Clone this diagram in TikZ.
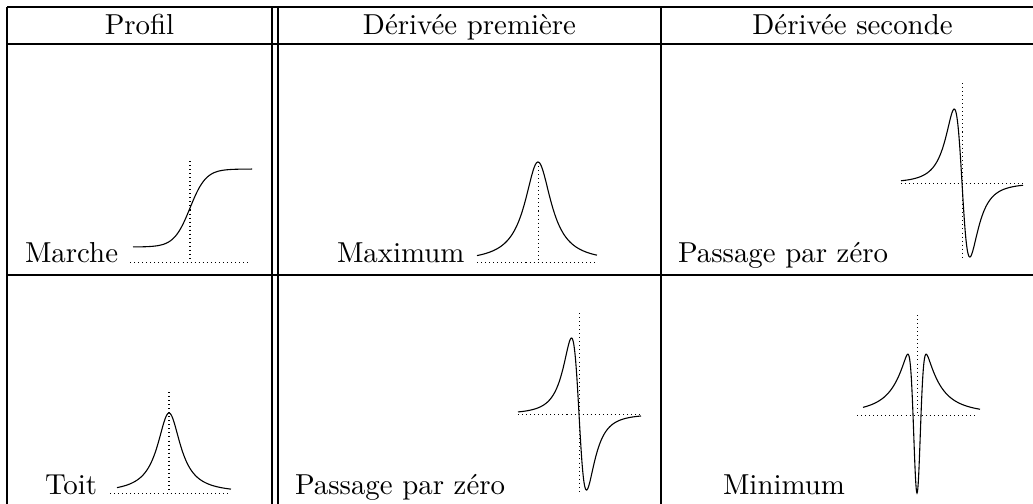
\documentclass[tikz,border=0pt]{standalone}
\begin{document}
\begin{tikzpicture}[x=0.3465pt,y=-0.3465pt,
  rule/.style={line width=0.4pt},
  guide/.style={line width=0.35pt, dash pattern=on 0.35pt off 1.05pt},
  curve/.style={line width=0.38pt},
  lbl/.style={anchor=base west, inner sep=0pt, outer sep=0pt},
  head/.style={anchor=base, inner sep=0pt, outer sep=0pt}]
\useasboundingbox (0,0) rectangle (1033,503);
% table rules
\draw[rule] (7,7) -- (1040,7);
\draw[rule] (7,44) -- (1040,44);
\draw[rule] (7,275) -- (1040,275);
\draw[rule] (7,7) -- (7,510);
\draw[rule] (272,7) -- (272,510);
\draw[rule] (278,7) -- (278,510);
\draw[rule] (661,7) -- (661,510);
% headers
\node[head] (h1) at (139.5,34) {Profil};
\node[head] (h2) at (469.5,34) {Dérivée première};
\node[head] (h3) at (852.5,34) {Dérivée seconde};
% labels
\node[lbl] (marche) at (25,262) {Marche};
\node[lbl] (maximum) at (337,262) {Maximum};
\node[lbl] (pz1) at (678,262) {Passage par zéro};
\node[lbl] (toit) at (45,494) {Toit};
\node[lbl] (pz2) at (295,494) {Passage par zéro};
\node[lbl] (minimum) at (723,494) {Minimum};
% Marche
\draw[guide] (130,262) -- (250,262);
\draw[guide] (190,161) -- (190,262);
\draw[curve] plot[domain=-57:62,samples=150] ({190+\x},{208-39*tanh(\x/16)});
% Maximum
\draw[guide] (477,262) -- (597,262);
\draw[guide] (538,162) -- (538,262);
\draw[curve] plot[domain=-61:59,samples=200] ({538+\x},{262-100/(1+(\x/16)^2)});
% Passage par zero (row 1)
\draw[guide] (901,183) -- (1023,183);
\draw[guide] (962,83) -- (962,258);
\draw[curve] plot[domain=-61:61,samples=300] ({962+\x},{183+113.9*(2*\x/13.5)/((1+(\x/13.5)^2)^2)});
% Toit
\draw[guide] (110,493) -- (230,493);
\draw[guide] (169,392) -- (169,493);
\draw[curve] plot[domain=-52:62,samples=200] ({169+\x},{493-80/(1+(\x/14)^2)});
% Passage par zero (row 2)
\draw[guide] (518,414) -- (641,414);
\draw[guide] (579,313) -- (579,493);
\draw[curve] plot[domain=-61:62,samples=300] ({579+\x},{414+117*(2*\x/13)/((1+(\x/13)^2)^2)});
% Minimum
\draw[guide] (857,415) -- (978,415);
\draw[guide] (917,315) -- (917,415);
\draw[curve] plot[domain=-54:63,samples=300] ({917+\x},{415-82.6/(1+(\x/17.3)^2)+160.6*exp(-min((\x/4.72)^2,9))});
\end{tikzpicture}
\end{document}
